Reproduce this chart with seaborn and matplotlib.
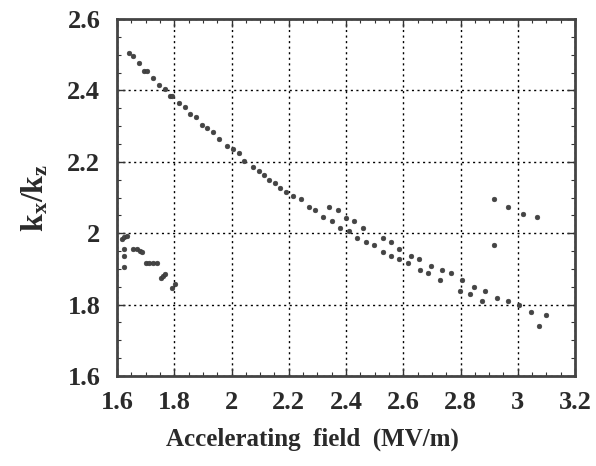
import matplotlib
matplotlib.use("Agg")
import matplotlib.pyplot as plt
import seaborn as sns
import pandas as pd
from matplotlib.ticker import MultipleLocator

# Main branch (decreasing curve)
main_x = [1.643, 1.655, 1.676, 1.695, 1.706, 1.727, 1.747, 1.767, 1.785, 1.793,
          1.817, 1.838, 1.856, 1.876, 1.897, 1.915, 1.935, 1.955, 1.985, 2.005,
          2.025, 2.044, 2.075, 2.095, 2.112, 2.132, 2.152, 2.170, 2.190, 2.214,
          2.243, 2.272, 2.292, 2.321, 2.341, 2.350, 2.371, 2.380, 2.400, 2.409,
          2.429, 2.439, 2.458, 2.470, 2.499, 2.529, 2.529, 2.558, 2.558, 2.586,
          2.586, 2.618, 2.627, 2.656, 2.659, 2.688, 2.698, 2.727, 2.736, 2.766,
          2.797, 2.805, 2.834, 2.846, 2.876, 2.886, 2.926, 2.966, 3.005, 3.045,
          3.075, 3.098]
main_y = [2.506, 2.496, 2.476, 2.454, 2.454, 2.435, 2.416, 2.404, 2.385, 2.383,
          2.365, 2.354, 2.334, 2.325, 2.304, 2.295, 2.284, 2.265, 2.244, 2.235,
          2.224, 2.203, 2.185, 2.174, 2.163, 2.150, 2.140, 2.128, 2.115, 2.105,
          2.095, 2.074, 2.064, 2.044, 2.074, 2.034, 2.064, 2.015, 2.043, 2.006,
          2.034, 1.986, 2.015, 1.976, 1.966, 1.987, 1.947, 1.975, 1.937, 1.956,
          1.928, 1.917, 1.937, 1.927, 1.898, 1.888, 1.908, 1.869, 1.898, 1.888,
          1.839, 1.869, 1.829, 1.848, 1.809, 1.839, 1.818, 1.809, 1.799, 1.780,
          1.740, 1.771]

# Low-field cluster
left_x = [1.618, 1.626, 1.634, 1.626, 1.624, 1.624, 1.657, 1.669, 1.680, 1.686,
          1.700, 1.712, 1.726, 1.739, 1.754, 1.762, 1.768, 1.793, 1.803]
left_y = [1.984, 1.988, 1.993, 1.956, 1.937, 1.906, 1.957, 1.955, 1.950, 1.948,
          1.916, 1.916, 1.916, 1.916, 1.875, 1.881, 1.885, 1.847, 1.857]

# High-field cluster
right_x = [2.918, 2.967, 3.017, 3.066, 2.917]
right_y = [2.095, 2.074, 2.055, 2.044, 1.966]

x_ticks = [1.6, 1.8, 2.0, 2.2, 2.4, 2.6, 2.8, 3.0, 3.2]
x_labels = ["1.6", "1.8", "2", "2.2", "2.4", "2.6", "2.8", "3", "3.2"]
y_ticks = [1.6, 1.8, 2.0, 2.2, 2.4, 2.6]
y_labels = ["1.6", "1.8", "2", "2.2", "2.4", "2.6"]

df = pd.DataFrame({
    "field": main_x + left_x + right_x,
    "ratio": main_y + left_y + right_y,
})

sns.set_theme(style="white")
plt.rcParams["font.family"] = ["Liberation Serif", "DejaVu Serif"]
plt.rcParams["mathtext.fontset"] = "custom"
plt.rcParams["mathtext.rm"] = "Liberation Serif"
plt.rcParams["mathtext.it"] = "Liberation Serif:bold"
plt.rcParams["mathtext.bf"] = "Liberation Serif:bold"

fig = plt.figure(figsize=(5.96, 4.66), dpi=100)
ax = fig.add_axes([117 / 596, 1 - 376 / 466, 458 / 596, 357 / 466])

sns.scatterplot(data=df, x="field", y="ratio", ax=ax, s=12, color="#444444",
                edgecolor="#333333", linewidth=0.3, legend=False, zorder=3)

ax.set_xlim(1.6, 3.2)
ax.set_ylim(1.6, 2.6)
ax.set_xticks(x_ticks)
ax.set_xticklabels(x_labels)
ax.set_yticks(y_ticks)
ax.set_yticklabels(y_labels)
ax.xaxis.set_minor_locator(MultipleLocator(0.05))
ax.yaxis.set_minor_locator(MultipleLocator(0.05))

ax.grid(True, which="major", linestyle=(0, (1.5, 2.5)), color="black", linewidth=1.0)
ax.tick_params(which="both", direction="in", top=True, right=True, left=True, bottom=True,
               color="#333333")
ax.tick_params(which="major", length=6, width=1.0)
ax.tick_params(which="minor", length=3, width=0.8)
ax.tick_params(axis="x", which="major", pad=11, labelsize=19)
ax.tick_params(axis="y", which="major", pad=12, labelsize=19)
for lab in ax.get_xticklabels() + ax.get_yticklabels():
    lab.set_fontweight("bold")
    lab.set_color("#2a2a2a")

for sp in ax.spines.values():
    sp.set_linewidth(2.0)
    sp.set_color("#444444")
    sp.set_visible(True)

ax.set_xlabel("Accelerating  field  (MV/m)", fontsize=18, fontweight="bold",
              color="#2a2a2a")
ax.xaxis.set_label_coords((312 - 117) / 458, -0.145)
ax.set_ylabel(r"$\mathbf{k_x/k_z}$", fontsize=23, color="#2a2a2a", labelpad=12)

fig.savefig("out.png", dpi=100)
